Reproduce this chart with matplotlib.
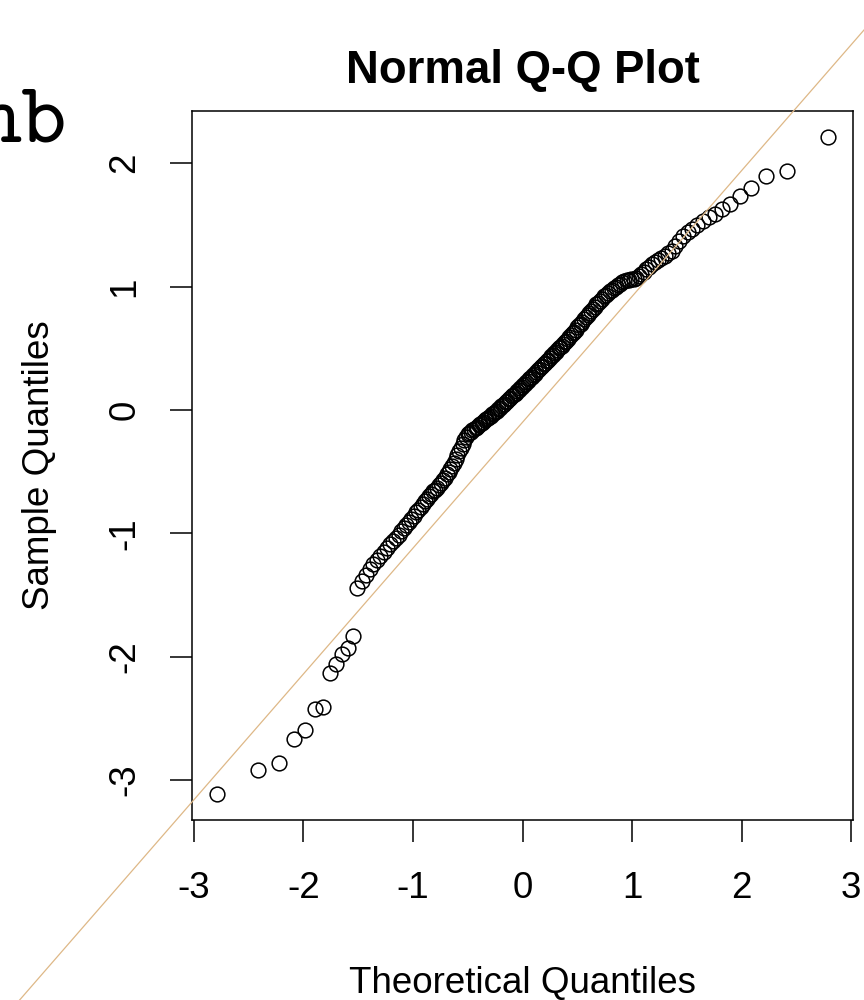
import statistics

import matplotlib
matplotlib.use("Agg")
import matplotlib.pyplot as plt
import numpy as np

plt.rcParams['font.family'] = ['Liberation Sans', 'DejaVu Sans']

# sorted sample values (190 points)
sample_low = [-3.11, -2.92, -2.86, -2.67, -2.59, -2.42, -2.41, -2.135, -2.06, -1.98,
              -1.925, -1.83]
sample_mid = [-1.44, -1.39, -1.34, -1.29, -1.25, -1.215, -1.18, -1.15, -1.12, -1.09,
              -1.06, -1.04, -1.01, -0.98, -0.96, -0.93, -0.91, -0.88, -0.86, -0.83,
              -0.81, -0.79, -0.76, -0.74, -0.72, -0.70, -0.68, -0.66, -0.645, -0.63,
              -0.61, -0.59, -0.57, -0.55, -0.52, -0.50, -0.475, -0.45, -0.43, -0.395,
              -0.365, -0.335, -0.305, -0.275, -0.245, -0.215, -0.195, -0.185, -0.175, -0.165,
              -0.155, -0.145, -0.135, -0.125, -0.115, -0.105, -0.095, -0.085, -0.075, -0.065,
              -0.055, -0.045, -0.035, -0.025, -0.015, -0.005, 0.005, 0.02, 0.03, 0.04,
              0.05, 0.065, 0.075, 0.085, 0.10, 0.11, 0.12, 0.13, 0.14, 0.155,
              0.165, 0.18, 0.19, 0.20, 0.21, 0.225, 0.235, 0.25, 0.26, 0.27,
              0.285, 0.295, 0.305, 0.32, 0.33, 0.345, 0.355, 0.37, 0.38, 0.395,
              0.405, 0.42, 0.435, 0.445, 0.46, 0.47, 0.485, 0.50, 0.51, 0.52,
              0.535, 0.55, 0.56, 0.575, 0.59, 0.605, 0.62, 0.635, 0.65, 0.67,
              0.685, 0.70, 0.715, 0.735, 0.75, 0.77, 0.785, 0.80, 0.82, 0.835,
              0.855, 0.87, 0.885, 0.90, 0.92, 0.935, 0.95, 0.965, 0.975, 0.985,
              1.00, 1.01]
sample_high = [1.02, 1.035, 1.045, 1.05, 1.055, 1.06, 1.065, 1.07, 1.085, 1.10,
               1.12, 1.14, 1.16, 1.18, 1.20, 1.215, 1.23, 1.25, 1.27, 1.29,
               1.33, 1.37, 1.41, 1.44, 1.47, 1.50, 1.53, 1.56, 1.59, 1.63,
               1.67, 1.73, 1.80, 1.90, 1.94, 2.21]

# reference line drawn over the points
line_intercept = -0.10
line_slope = 1.02

x_ticks = [-3, -2, -1, 0, 1, 2, 3]
y_ticks = [-3, -2, -1, 0, 1, 2]

sample = np.array(sample_low + sample_mid + sample_high)
n = len(sample)

# theoretical quantiles like R's qqnorm (ppoints with a = 0.5)
nd = statistics.NormalDist()
theo = np.array([nd.inv_cdf((i + 0.5) / n) for i in range(n)])

W, H = 864, 1000
fig = plt.figure(figsize=(W / 100, H / 100), dpi=100)
ax = fig.add_axes([192.3 / W, 180 / H, (852.7 - 192.3) / W, 709 / H])

ax.plot(theo, sample, linestyle='none', marker='o', markersize=10.6,
        markerfacecolor='none', markeredgecolor='black', markeredgewidth=1.1)

xs = np.array([-6.0, 4.0])
ax.plot(xs, line_intercept + line_slope * xs, color='#DEB887', linewidth=0.9,
        clip_on=False, zorder=3)

# R style limits: data range widened by 4 %
def r_lim(v):
    lo, hi = v.min(), v.max()
    d = (hi - lo) * 0.04
    return lo - d, hi + d

ax.set_xlim(*r_lim(theo))
ax.set_ylim(*r_lim(sample))

ax.set_xticks(x_ticks)
ax.set_yticks(y_ticks)
ax.set_xticklabels([str(t) for t in x_ticks])
ax.set_yticklabels([str(t) for t in y_ticks])
for sp in ax.spines.values():
    sp.set_linewidth(1.1)
ax.tick_params(direction='out', length=15.8, width=1.1, labelsize=26.5)
ax.tick_params(axis='x', pad=21)
ax.tick_params(axis='y', pad=20)
plt.setp(ax.get_yticklabels(), rotation=90, va='center')

ax.set_title('Normal Q-Q Plot', fontsize=32.8, fontweight='bold',
             y=1.057, pad=0, va='center')
ax.set_xlabel('Theoretical Quantiles', fontsize=26.5, va='center')
ax.xaxis.set_label_coords(0.5, -0.230)
ax.set_ylabel('Sample Quantiles', fontsize=26.5, va='center')
ax.yaxis.set_label_coords(-0.232, 0.5)

fig.text(67 / W, 1 - 142 / H, 'nb', family=['cmtt10', 'Liberation Mono'],
         fontsize=62, ha='right', va='baseline')

fig.savefig('out.png', dpi=100)
